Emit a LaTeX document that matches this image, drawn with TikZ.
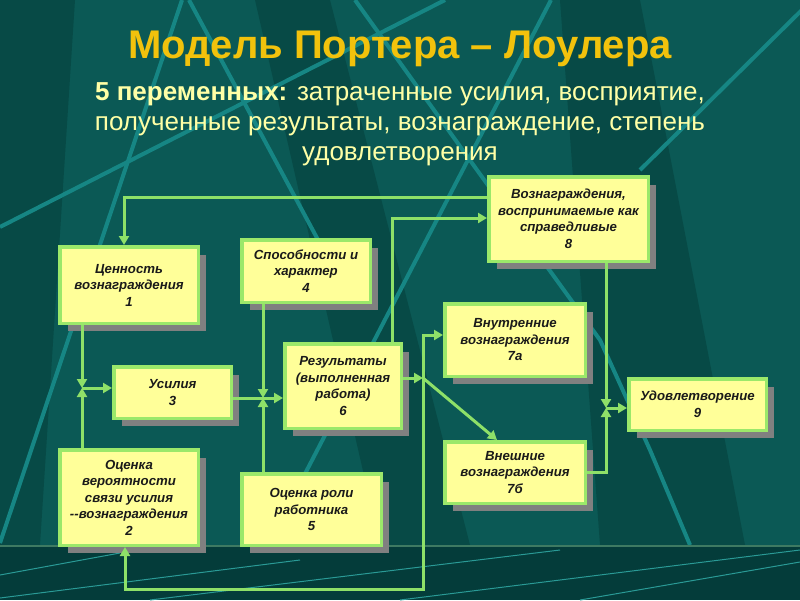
\documentclass[tikz,border=0pt]{standalone}
\usepackage{fontspec}
\setmainfont{Liberation Sans}
\usetikzlibrary{arrows.meta,shadows}
\definecolor{bgbase}{HTML}{0B5955}
\definecolor{bgdark}{HTML}{074A46}
\definecolor{bgband}{HTML}{043C3A}
\definecolor{bandline}{HTML}{3E7A62}
\definecolor{streak}{HTML}{168684}
\definecolor{streakthin}{HTML}{2A9A96}
\definecolor{boxfill}{HTML}{FFFF99}
\definecolor{boxedge}{HTML}{9BE86A}
\definecolor{shade}{HTML}{808080}
\definecolor{conncol}{HTML}{8EE068}
\definecolor{titlecol}{HTML}{F2C20C}
\definecolor{subcol}{HTML}{FFFFA6}
\definecolor{boxtext}{HTML}{1A1A1A}
\tikzset{
  box/.style={draw=boxedge, line width=3.5pt, fill=boxfill, inner sep=0pt, align=center,
    text=boxtext, font=\fontsize{13.2}{16.5}\selectfont\bfseries\itshape,
    drop shadow={shadow xshift=8pt, shadow yshift=-8pt, fill=shade, opacity=1}},
  conn/.style={draw=conncol, line width=3pt},
  arr/.style={conn, -{Triangle[length=9pt,width=10pt]}},
  bgline/.style={draw=streak, line width=4pt},
  bgthin/.style={draw=streakthin, line width=1pt},
}
\begin{document}
\begin{tikzpicture}[x=1pt,y=-1pt]
\useasboundingbox (0,0) rectangle (800,600);
\begin{scope}
\clip (0,0) rectangle (800,600);
\fill[bgbase] (0,0) rectangle (800,600);
\fill[bgdark] (0,0) -- (75,0) -- (40,545) -- (0,545) -- cycle;
\fill[bgdark] (255,0) -- (330,0) -- (470,545) -- (380,545) -- cycle;
\fill[bgdark] (560,0) -- (640,0) -- (745,545) -- (600,545) -- cycle;
\draw[bgline] (182,0) -- (0,543);
\draw[bgline] (0,227) -- (445,0);
\draw[bgline] (189,0) -- (345,290);
\draw[bgline] (551,0) -- (268,545);
\draw[bgline] (355,0) -- (477,170) -- (600,340) -- (650,450) -- (690,545);
\draw[bgline] (812,0) -- (640,170);
\fill[bgband] (0,545) rectangle (800,600);
\draw[bandline, line width=2pt] (0,546) -- (800,546);
\draw[bgthin] (0,598) -- (300,560);
\draw[bgthin] (150,600) -- (560,550);
\draw[bgthin] (400,600) -- (800,550);
\draw[bgthin] (580,600) -- (800,562);
\draw[bgthin] (0,575) -- (120,553);
\end{scope}

\node[text=titlecol, font=\fontsize{40}{44}\selectfont\bfseries] (title) at (400,49) {Модель Портера – Лоулера};
\node[text=subcol, font=\fontsize{26}{30}\selectfont, align=center] (sub) at (400,124)
  {\textbf{5 переменных:} затраченные усилия, восприятие,\\ полученные результаты, вознаграждение, степень\\ удовлетворения};

\node[box, minimum width=138.5pt, minimum height=76.5pt] (n1) at (129,285) {Ценность\\вознаграждения\\1};
\node[box, minimum width=128.5pt, minimum height=62.5pt] (n4) at (306,271) {Способности и\\характер\\4};
\node[box, minimum width=159.5pt, minimum height=84.5pt] (n8) at (568.5,219) {Вознаграждения,\\воспринимаемые как\\справедливые\\8};
\node[box, minimum width=140.5pt, minimum height=72.5pt] (n7a) at (515,340) {Внутренние\\вознаграждения\\7а};
\node[box, minimum width=116.5pt, minimum height=84.5pt] (n6) at (343,386) {Результаты\\(выполненная\\работа)\\6};
\node[box, minimum width=137.5pt, minimum height=51.5pt] (n9) at (697.5,404.5) {Удовлетворение\\9};
\node[box, minimum width=140.5pt, minimum height=61.5pt] (n7b) at (515,472.5) {Внешние\\вознаграждения\\7б};
\node[box, minimum width=117.5pt, minimum height=51.5pt] (n3) at (172.5,392.5) {Усилия\\3};
\node[box, minimum width=138.5pt, minimum height=95.5pt] (n2) at (129,497.5) {Оценка\\вероятности\\связи усилия\\-{}-вознаграждения\\2};
\node[box, minimum width=139.5pt, minimum height=71.5pt] (n5) at (311.5,509.5) {Оценка роли\\работника\\5};

\coordinate (J1) at (82,388);
\coordinate (J2) at (263,398);
\coordinate (J3) at (423,378);
\coordinate (J4) at (606,408);
\coordinate (T1) at (124,197);
\coordinate (C6) at (392,218);
\coordinate (A7) at (423,335);
\coordinate (D7) at (497,440);
\coordinate (B1) at (423,589);
\coordinate (B2) at (125,589);
\coordinate (R7) at (587,472);

\draw[arr] (n8.west |- T1) -| (n1.north -| T1);
\draw[arr] (n6.north -| C6) |- (n8.west |- C6);
\draw[arr] (n1.south -| J1) -- (J1);
\draw[arr] (n2.north -| J1) -- (J1);
\draw[arr] (J1) -- (n3.west |- J1);
\draw[arr] (n4.south -| J2) -- (J2);
\draw[arr] (n5.north -| J2) -- (J2);
\draw[conn] (n3.east |- J2) -- (J2);
\draw[arr] (J2) -- (n6.west |- J2);
\draw[arr] (n6.east |- J3) -- (J3);
\draw[arr] (J3) -- (n7b.north -| D7);
\draw[arr] (J3) |- (n7a.west |- A7);
\draw[arr] (J3) -- (B1) -- (B2) -- (n2.south -| B2);
\draw[arr] (n8.south -| J4) -- (J4);
\draw[arr] (n7b.east |- R7) -| (J4);
\draw[arr] (J4) -- (n9.west |- J4);
\end{tikzpicture}
\end{document}
